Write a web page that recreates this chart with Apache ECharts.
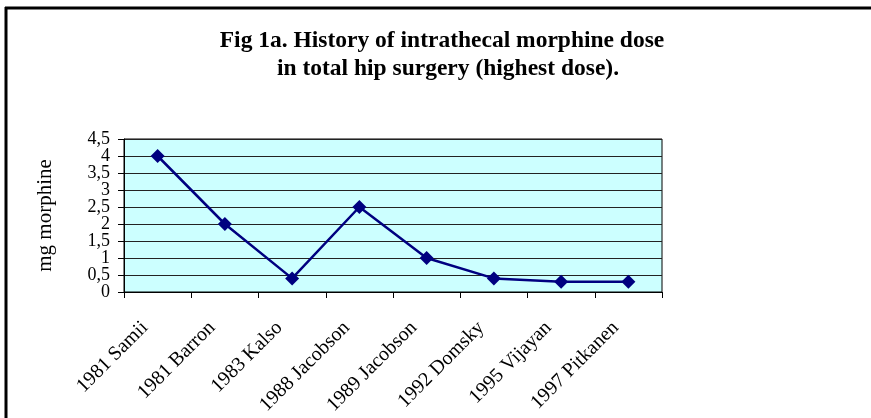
<!DOCTYPE html>
<html>
<head>
<meta charset="utf-8">
<script src="https://cdn.jsdelivr.net/npm/echarts@6/dist/echarts.min.js"></script>
<style>
  html, body { margin: 0; padding: 0; background: #fff; }
</style>
</head>
<body>
<div id="container" style="width: 871px;height:418px;"></div>
<script>
  var studies = ['1981 Samii', '1981 Barron', '1983 Kalso', '1988 Jacobson', '1989 Jacobson', '1992 Domsky', '1995 Vijayan', '1997 Pitkanen'];
  var doseMg = [4, 2, 0.4, 2.5, 1, 0.4, 0.3, 0.3];
  var titleLines = ['Fig 1a. History of intrathecal morphine dose', 'in total hip surgery (highest dose).'];

  var serif = '"Liberation Serif", "DejaVu Serif", serif';

  // labels are packed tighter than ECharts allows, so whole numbers and
  // halves go on two overlaid axes with the same scale
  function commaLabel(v) { return String(v).replace('.', ','); }
  function wholeOnly(v) { return v % 1 === 0 ? commaLabel(v) : ''; }
  function halvesOnly(v) { return v % 1 !== 0 ? commaLabel(v) : ''; }

  var myChart = echarts.init(document.getElementById('container'));
  myChart.setOption({
    animation: false,
    title: [
      {text: titleLines[0], left: 437, top: 24, textAlign: 'center',
        textStyle: {fontFamily: serif, fontWeight: 'bold', fontSize: 23.5, color: '#000'}},
      {text: titleLines[1], left: 443, top: 52, textAlign: 'center',
        textStyle: {fontFamily: serif, fontWeight: 'bold', fontSize: 23.5, color: '#000'}}
    ],
    // frame of the original picture (only top and left edge visible)
    graphic: [
      {type: 'line', shape: {x1: 5, y1: 8, x2: 871, y2: 8}, style: {stroke: '#000', lineWidth: 3}},
      {type: 'line', shape: {x1: 6, y1: 7, x2: 6, y2: 418}, style: {stroke: '#000', lineWidth: 3}}
    ],
    grid: {
      left: 124, top: 139, right: 209, bottom: 126,
      show: true, backgroundColor: '#ccffff', borderColor: '#000', borderWidth: 1
    },
    xAxis: {
      type: 'category',
      data: studies,
      boundaryGap: true,
      axisLine: {lineStyle: {color: '#000', width: 1}},
      axisTick: {show: true, length: 6, lineStyle: {color: '#000'}},
      axisLabel: {rotate: 45, interval: 0, margin: 20, padding: [0, 18, 0, 0],
        fontFamily: serif, fontSize: 20, color: '#000'}
    },
    yAxis: [
      {
        type: 'value',
        position: 'left',
        min: 0, max: 4.5, interval: 0.5,
        name: 'mg morphine',
        nameLocation: 'middle',
        nameGap: 68,
        nameTextStyle: {fontFamily: serif, fontSize: 21, color: '#000'},
        axisLine: {show: true, lineStyle: {color: '#000', width: 1}},
        axisTick: {show: true, length: 6, lineStyle: {color: '#000'}},
        splitLine: {show: true, lineStyle: {color: '#222', width: 1}},
        axisLabel: {
          margin: 14, color: '#000', fontFamily: serif, fontSize: 18,
          showMinLabel: true, showMaxLabel: true,
          formatter: wholeOnly
        }
      },
      {
        type: 'value',
        position: 'left',
        offset: 0,
        min: 0, max: 4.5, interval: 0.5,
        axisLine: {show: false},
        axisTick: {show: false},
        splitLine: {show: false},
        axisLabel: {
          margin: 14, color: '#000', fontFamily: serif, fontSize: 18,
          showMinLabel: true, showMaxLabel: true,
          formatter: halvesOnly
        }
      }
    ],
    series: [{
      type: 'line',
      yAxisIndex: 0,
      data: doseMg,
      symbol: 'diamond',
      symbolSize: 14,
      lineStyle: {color: '#000080', width: 2.5},
      itemStyle: {color: '#000080'}
    }]
  });
</script>
</body>
</html>
